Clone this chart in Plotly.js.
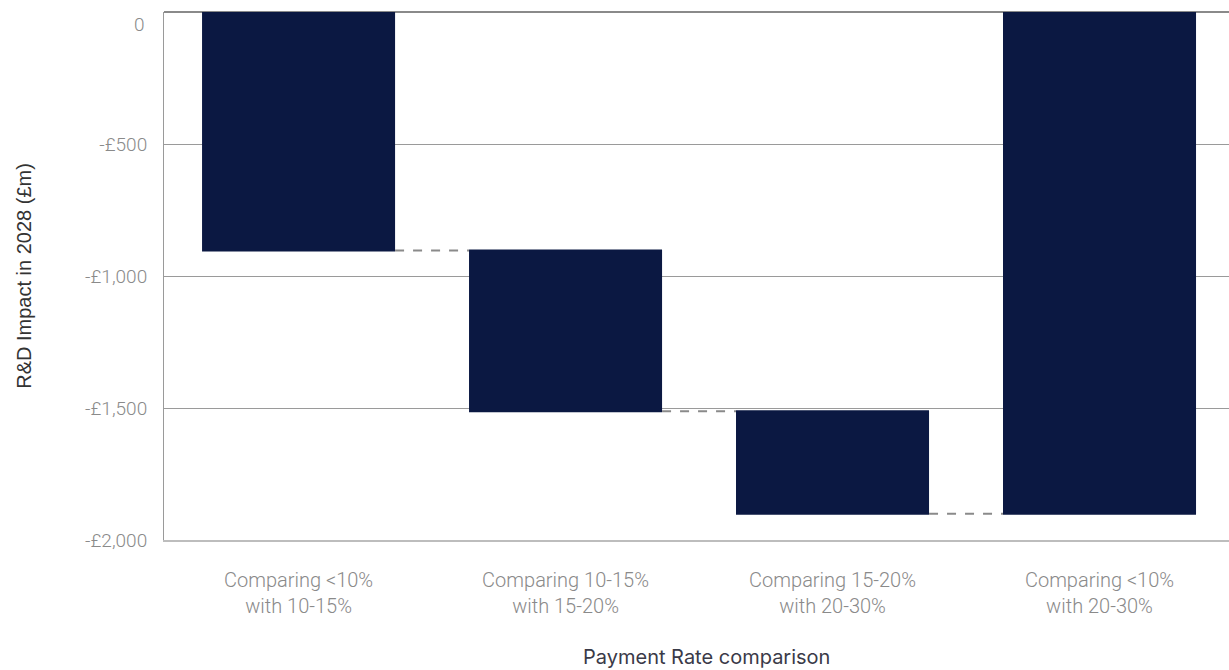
<!DOCTYPE html>
<html>
<head>
<meta charset="utf-8">
<script src="https://cdn.plot.ly/plotly-3.0.1.min.js"></script>
<style>html,body{margin:0;padding:0;background:#fff;}#chart{width:1229px;height:670px;}</style>
</head>
<body>
<div id="chart"></div>
<script>
const categories = ["Comparing <10%<br>with 10-15%", "Comparing 10-15%<br>with 15-20%", "Comparing 15-20%<br>with 20-30%", "Comparing <10%<br>with 20-30%"];
const measures = ["relative", "relative", "relative", "total"];
const values = [-903, -609, -389, 0];
const yTickVals = [0, -500, -1000, -1500, -2000];
const yTickText = ["", "-£500", "-£1,000", "-£1,500", "-£2,000"];
const zeroLabel = "0";
const xTitle = "Payment Rate comparison";
const yTitle = "R&D Impact in 2028 (£m)";

const trace = {
  type: "waterfall",
  x: categories,
  y: values,
  measure: measures,
  width: 0.723,
  decreasing: {marker: {color: "#0b1842"}},
  increasing: {marker: {color: "#0b1842"}},
  totals: {marker: {color: "#0b1842"}},
  connector: {mode: "between", line: {color: "#8a8a8a", width: 2, dash: "dash"}},
  hoverinfo: "skip",
  showlegend: false
};

const tickFont = {family: "Roboto, 'Open Sans', sans-serif", size: 19, color: "#8a8a8a", weight: 300};
const xTickFont = {family: "Roboto, 'Open Sans', sans-serif", size: 20, color: "#8a8a8a", weight: 300};

const layout = {
  width: 1229, height: 670,
  margin: {l: 164, r: 0, t: 12, b: 130},
  paper_bgcolor: "#ffffff", plot_bgcolor: "#ffffff",
  xaxis: {
    type: "category",
    range: [-0.504, 3.485],
    showline: true, linecolor: "#bdbdbd", linewidth: 1.5,
    showgrid: false, ticks: "",
    tickfont: xTickFont,
    ticklabelstandoff: 21
  },
  yaxis: {
    range: [-2000, 0],
    tickvals: yTickVals, ticktext: yTickText,
    showline: true, linecolor: "#9a9a9a", linewidth: 1,
    showgrid: true, gridcolor: "#9a9a9a", gridwidth: 1,
    zeroline: true, zerolinecolor: "#8a8a8a", zerolinewidth: 1.5,
    ticks: "", tickfont: tickFont,
    ticklabelstandoff: 12,
    title: {text: yTitle, font: {family: "'Liberation Sans', Arial, sans-serif", size: 20, color: "#333333"}, standoff: 48}
  },
  annotations: [
    {text: zeroLabel, xref: "paper", x: 0, xanchor: "right", xshift: -17, yref: "y", y: 0, yanchor: "middle", yshift: -12, showarrow: false, font: tickFont},
    {text: xTitle, xref: "paper", x: 0.509, xanchor: "center", yref: "paper", y: 0, yanchor: "middle", yshift: -(657 - 540), showarrow: false, font: {family: "Inter, sans-serif", size: 20, color: "#3a3a48"}}
  ]
};

Plotly.newPlot("chart", [trace], layout, {displayModeBar: false, staticPlot: true});
</script>
</body>
</html>
